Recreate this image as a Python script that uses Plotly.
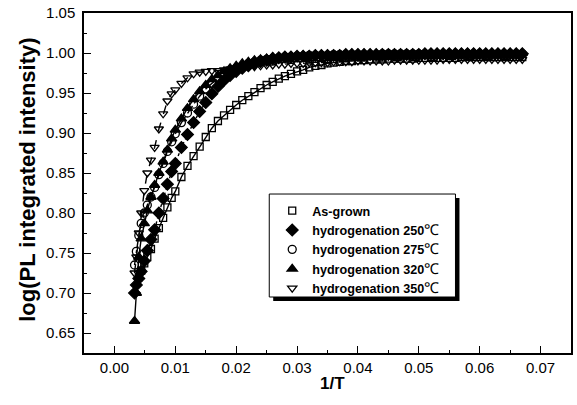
"""PL integrated intensity vs 1/T for as-grown and hydrogenated samples."""
import plotly.graph_objects as go

# shared 1/T grid
inv_t = [0.0033, 0.0036, 0.0040, 0.0044, 0.0049, 0.0054, 0.0060, 0.0066, 0.0073, 0.0080,
         0.0087, 0.0094, 0.010, 0.011, 0.012, 0.013, 0.014, 0.015, 0.016, 0.017,
         0.018, 0.019, 0.020, 0.021, 0.022, 0.023, 0.024, 0.025, 0.026, 0.027,
         0.028, 0.029, 0.030, 0.031, 0.032, 0.033, 0.034, 0.035, 0.036, 0.037,
         0.038, 0.039, 0.040, 0.041, 0.042, 0.043, 0.044, 0.045, 0.046, 0.047,
         0.048, 0.049, 0.050, 0.051, 0.052, 0.053, 0.054, 0.055, 0.056, 0.057,
         0.058, 0.059, 0.060, 0.061, 0.062, 0.063, 0.064, 0.065, 0.066, 0.067]

as_grown = [None, None, 0.720, 0.728, 0.737, 0.745, 0.755, 0.768, 0.781, 0.794,
            0.807, 0.819, 0.827, 0.845, 0.859, 0.871, 0.883, 0.895, 0.906, 0.915,
            0.922, 0.929, 0.935, 0.941, 0.946, 0.951, 0.956, 0.960, 0.964, 0.968,
            0.971, 0.974, 0.977, 0.979, 0.982, 0.984, 0.985, 0.987, 0.988, 0.989,
            0.990, 0.990, 0.991, 0.991, 0.992, 0.992, 0.992, 0.993, 0.993, 0.993,
            0.993, 0.993, 0.994, 0.994, 0.994, 0.994, 0.994, 0.994, 0.994, 0.995,
            0.995, 0.995, 0.995, 0.995, 0.995, 0.995, 0.995, 0.995, 0.995, 0.995]

h250 = [0.700, 0.710, 0.718, 0.727, 0.740, 0.753, 0.767, 0.779, 0.800, 0.818,
        0.836, 0.852, 0.862, 0.882, 0.898, 0.913, 0.927, 0.938, 0.949, 0.958,
        0.966, 0.972, 0.977, 0.981, 0.984, 0.987, 0.989, 0.991, 0.993, 0.994,
        0.995, 0.995, 0.996, 0.996, 0.996, 0.997, 0.997, 0.997, 0.997, 0.997,
        0.998, 0.998, 0.998, 0.998, 0.998, 0.998, 0.998, 0.998, 0.998, 0.998,
        0.998, 0.998, 0.998, 0.999, 0.999, 0.999, 0.999, 0.999, 0.999, 0.999,
        0.999, 0.999, 0.999, 0.999, 0.999, 0.999, 0.999, 0.999, 0.999, 0.999]

h275 = [0.735, 0.752, 0.772, 0.787, 0.800, 0.810, 0.820, 0.832, 0.848, 0.862,
        0.877, 0.889, 0.899, 0.913, 0.925, 0.936, 0.946, 0.955, 0.962, 0.968,
        0.973, 0.977, 0.981, 0.984, 0.987, 0.989, 0.991, 0.992, 0.993, 0.994,
        0.995, 0.995, 0.996, 0.996, 0.997, 0.997, 0.997, 0.997, 0.998, 0.998,
        0.998, 0.998, 0.998, 0.998, 0.998, 0.998, 0.999, 0.999, 0.999, 0.999,
        0.999, 0.999, 0.999, 0.999, 0.999, 0.999, 0.999, 0.999, 0.999, 0.999,
        0.999, 0.999, 0.999, 0.999, 0.999, 0.999, 0.999, 0.999, 0.999, 0.999]

h320 = [0.665, 0.700, 0.745, 0.768, 0.787, 0.803, 0.820, 0.835, 0.850, 0.864,
        0.879, 0.893, 0.904, 0.918, 0.931, 0.942, 0.952, 0.960, 0.967, 0.972,
        0.977, 0.981, 0.984, 0.987, 0.989, 0.991, 0.992, 0.993, 0.995, 0.994,
        0.995, 0.996, 0.996, 0.997, 0.997, 0.997, 0.998, 0.998, 0.998, 0.998,
        0.998, 0.999, 0.999, 0.999, 0.999, 0.999, 0.999, 0.999, 0.999, 0.999,
        0.999, 0.999, 0.999, 0.999, 0.999, 1.000, 1.000, 1.000, 1.000, 1.000,
        1.000, 1.000, 1.000, 1.000, 1.000, 1.000, 1.000, 1.000, 1.000, 1.000]

h350 = [0.725, 0.745, 0.775, 0.800, 0.828, 0.850, 0.866, 0.882, 0.905, 0.924,
        0.940, 0.949, 0.954, 0.962, 0.969, 0.974, 0.976, 0.977, 0.978, 0.978,
        0.979, 0.980, 0.981, 0.982, 0.983, 0.983, 0.984, 0.985, 0.985, 0.986,
        0.986, 0.987, 0.987, 0.987, 0.988, 0.988, 0.988, 0.988, 0.989, 0.989,
        0.989, 0.989, 0.990, 0.990, 0.990, 0.990, 0.990, 0.990, 0.991, 0.991,
        0.991, 0.991, 0.991, 0.991, 0.991, 0.991, 0.992, 0.992, 0.992, 0.992,
        0.992, 0.992, 0.992, 0.992, 0.992, 0.992, 0.992, 0.992, 0.992, 0.992]

deg = '<span style="font-weight:normal;font-size:15px">℃</span>'
series = [
    ('As-grown', as_grown, 'square-open', 7, 'solid'),
    ('hydrogenation 250' + deg, h250, 'diamond', 9, 'dot'),
    ('hydrogenation 275' + deg, h275, 'circle-open', 8, 'dashdot'),
    ('hydrogenation 320' + deg, h320, 'triangle-up', 9, 'solid'),
    ('hydrogenation 350' + deg, h350, 'triangle-down-open', 8, 'dash'),
]

fig = go.Figure()
for name, y, symbol, size, dash in series:
    fig.add_trace(go.Scatter(x=inv_t, y=y, mode='lines', showlegend=False,
                             line=dict(color='black', width=1.4, dash=dash)))
for name, y, symbol, size, dash in series:
    fig.add_trace(go.Scatter(x=inv_t, y=y, mode='markers', name=name,
                             marker=dict(symbol=symbol, size=size, color='black',
                                         line=dict(color='black', width=1.3))))

font = 'Liberation Sans, Arial, sans-serif'
axis_common = dict(showline=True, linecolor='black', linewidth=1.5, mirror=True,
                   ticks='inside', ticklen=7, tickwidth=1.3, tickcolor='black',
                   showgrid=False, zeroline=False,
                   tickfont=dict(family=font, size=15, color='black'))

fig.update_xaxes(range=[-0.005, 0.075], dtick=0.01, tick0=0, tickformat='.2f',
                 minor=dict(ticks='inside', ticklen=3, dtick=0.005, tickcolor='black'),
                 **axis_common)
fig.update_yaxes(range=[0.625, 1.05], dtick=0.05, tick0=0.65, tickformat='.2f',
                 minor=dict(ticks='inside', ticklen=3, dtick=0.025, tickcolor='black'),
                 ticklabelstandoff=4, **axis_common)

# legend box with drop shadow, drawn as shapes
fig.add_shape(type='rect', xref='paper', yref='paper', x0=0.3885, x1=0.7710, y0=0.1529, y1=0.4559,
              fillcolor='black', line=dict(width=0), layer='above')
fig.add_shape(type='rect', xref='paper', yref='paper', x0=0.3804, x1=0.7628, y0=0.1647, y1=0.4676,
              fillcolor='white', line=dict(color='black', width=1), layer='above')

fig.add_annotation(text='<b>log(PL integrated intensity)</b>', xref='paper', yref='paper',
                   x=-0.1166, y=0.51, xanchor='center', yanchor='middle', textangle=-90,
                   showarrow=False, font=dict(family=font, size=22, color='black'))
fig.add_annotation(text='<b>1/T</b>', xref='paper', yref='paper', x=0.511, y=-0.09,
                   xanchor='center', yanchor='middle', showarrow=False,
                   font=dict(family=font, size=17, color='black'))

fig.update_layout(
    width=577, height=405,
    margin=dict(l=84, r=4, t=13, b=52),
    plot_bgcolor='white', paper_bgcolor='white',
    legend=dict(x=0.3865, y=0.462, xanchor='left', yanchor='top',
                bgcolor='rgba(0,0,0,0)', borderwidth=0,
                font=dict(family=font, size=12.6, color='black', weight='bold'),
                tracegroupgap=0),
)

fig.write_html('out.html', config={'displayModeBar': False},
               post_script="document.body.style.margin='0';document.body.style.overflow='hidden';")
